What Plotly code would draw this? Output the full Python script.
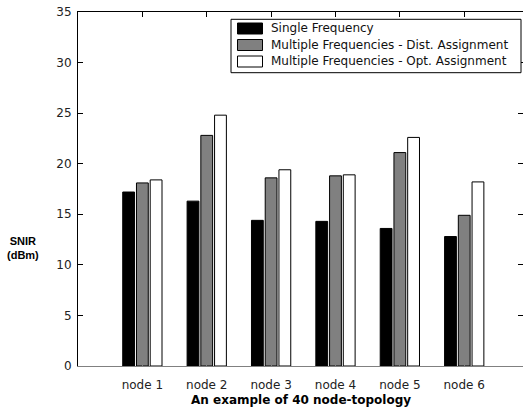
import plotly.graph_objects as go

categories = ["node 1", "node 2", "node 3", "node 4", "node 5", "node 6"]
series_names = ["Single Frequency",
                "Multiple Frequencies - Dist. Assignment",
                "Multiple Frequencies - Opt. Assignment"]
single_freq = [17.2, 16.3, 14.4, 14.3, 13.6, 12.8]
multi_dist = [18.1, 22.8, 18.6, 18.8, 21.1, 14.9]
multi_opt = [18.4, 24.8, 19.4, 18.9, 22.6, 18.2]
y_ticks = [0, 5, 10, 15, 20, 25, 30, 35]

series_values = [single_freq, multi_dist, multi_opt]
fill_colors = ["#000000", "#808080", "#ffffff"]
xpos = list(range(1, len(categories) + 1))

W, H = 525, 409
L, R, T, B = 78, 2, 12, 43
XMAX = (W - L - R) / 64.37

fig = go.Figure()
for name, vals, col in zip(series_names, series_values, fill_colors):
    fig.add_trace(go.Bar(x=xpos, y=vals, name=name, marker=dict(color=col, line=dict(color="#000000", width=1)),
                         showlegend=False))

font_main = "DejaVu Sans, Verdana, sans-serif"

fig.update_layout(
    width=W, height=H,
    margin=dict(l=L, r=R, t=T, b=B, pad=0),
    paper_bgcolor="white", plot_bgcolor="white",
    barmode="group", bargap=0.36, bargroupgap=0.14,
    font=dict(family=font_main, size=12, color="#222222"),
    xaxis=dict(range=[0, XMAX], tickvals=xpos, ticktext=categories, ticks="inside", ticklen=5,
               tickcolor="#808080", showline=True, linecolor="#808080", linewidth=1,
               showgrid=False, zeroline=False, ticklabelstandoff=8,
               tickfont=dict(family=font_main, size=12, color="#222222")),
    xaxis2=dict(range=[0, XMAX], tickvals=xpos, overlaying="x", side="top", anchor="y",
                ticks="inside", ticklen=5, tickcolor="#000000", showline=True, linecolor="#000000",
                linewidth=1, showticklabels=False, showgrid=False, zeroline=False),
    yaxis=dict(range=[0, 35], tickvals=y_ticks, ticks="inside", ticklen=5, tickcolor="#000000",
               showline=True, linecolor="#000000", linewidth=1, showgrid=False, zeroline=False,
               ticklabelstandoff=3, tickfont=dict(family=font_main, size=12, color="#222222")),
    yaxis2=dict(range=[0, 35], tickvals=y_ticks, overlaying="y", side="right", anchor="x",
                ticks="inside", ticklen=5, tickcolor="#000000", showline=False,
                showticklabels=False, showgrid=False, zeroline=False),
    showlegend=False,
)
# invisible trace to activate top/right axes
fig.add_trace(go.Scatter(x=[None], y=[None], xaxis="x2", yaxis="y2", showlegend=False, hoverinfo="skip"))

pw = W - L - R
ph = H - T - B
def px(xp):
    return (xp - L) / pw
def py(yp):
    return (H - B - yp) / ph

# legend box
shapes = [dict(type="rect", xref="paper", yref="paper", x0=px(231), x1=px(521), y0=py(72.7), y1=py(19.3),
               line=dict(color="#000000", width=1), fillcolor="white", layer="above")]
annotations = []
row_y = [28.5, 45.0, 61.5]
for name, col, ry in zip(series_names, fill_colors, row_y):
    shapes.append(dict(type="rect", xref="paper", yref="paper", x0=px(237.5), x1=px(262.5),
                       y0=py(ry + 5.5), y1=py(ry - 5.5), line=dict(color="#000000", width=1),
                       fillcolor=col, layer="above"))
    annotations.append(dict(xref="paper", yref="paper", x=px(269), y=py(ry), text=name, showarrow=False,
                            xanchor="left", yanchor="middle",
                            font=dict(family=font_main, size=12, color="#111111")))

annotations.append(dict(xref="paper", yref="paper", x=px(301), y=py(400), text="<b>An example of 40 node-topology</b>",
                        showarrow=False, xanchor="center", yanchor="middle",
                        font=dict(family=font_main, size=12, color="#000000")))
annotations.append(dict(xref="paper", yref="paper", x=px(23), y=py(248.5), text="<b>SNIR<br>(dBm)</b>",
                        showarrow=False, xanchor="center", yanchor="middle",
                        font=dict(family="Liberation Sans, Arial, sans-serif", size=11, color="#000000")))
fig.update_layout(shapes=shapes, annotations=annotations)

fig.write_html("out.html", config={"displayModeBar": False},
               post_script="document.body.style.margin='0';document.body.style.overflow='hidden';"
                           "document.documentElement.style.overflow='hidden';")
